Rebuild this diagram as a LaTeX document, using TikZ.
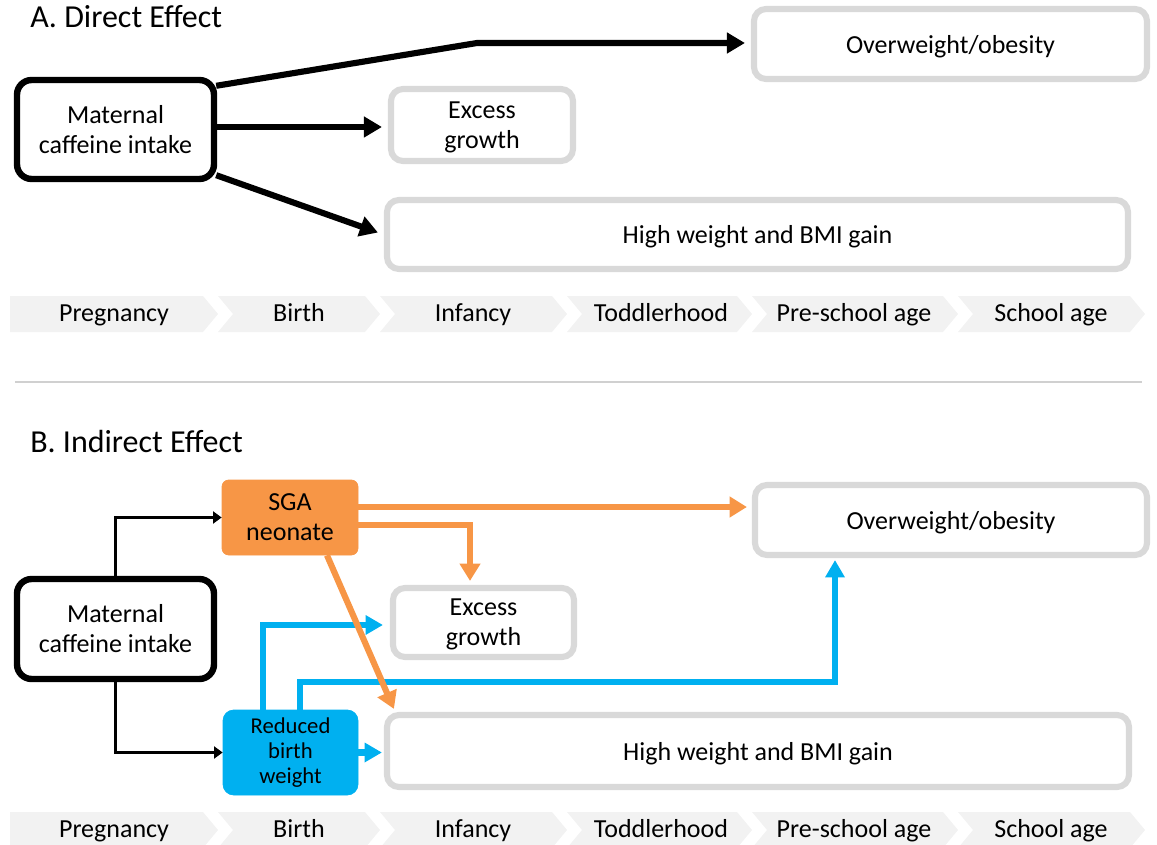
\documentclass[tikz,border=0pt]{standalone}
\usepackage{fontspec}
\setmainfont{Carlito}
\usetikzlibrary{arrows.meta,calc}
\definecolor{orng}{HTML}{F79646}
\definecolor{blu}{HTML}{00B0F0}
\definecolor{bordgray}{HTML}{D9D9D9}
\definecolor{chevgray}{HTML}{F2F2F2}
\definecolor{sepgray}{HTML}{D0D0D0}
\begin{document}
\begin{tikzpicture}[x=0.75pt,y=-0.75pt,
  body/.style={font=\fontsize{19.5}{22.5}\selectfont, align=center, inner sep=0pt, text=black},
  small/.style={font=\fontsize{17}{18.75}\selectfont, align=center, inner sep=0pt, text=black},
  wh/.style 2 args={minimum width=#1*0.75pt, minimum height=#2*0.75pt},
  graybox/.style={body, text depth=0pt, draw=bordgray, line width=4.6pt, rounded corners=9pt, fill=white},
  matbox/.style={body, draw=black, line width=4.8pt, rounded corners=11pt, fill=white},
  sgabox/.style={body, fill=orng, draw=orng, line width=0.5pt, rounded corners=5pt},
  rbwbox/.style={small, fill=blu, draw=blu, line width=0.5pt, rounded corners=8pt},
  titletext/.style={font=\fontsize{24}{28}\selectfont, inner sep=0pt, anchor=base west, text=black},
  chevtext/.style={font=\fontsize{19.5}{22.5}\selectfont, inner sep=0pt, anchor=base, text=black},
  blkarr/.style={draw=black, line width=4.6pt, -{Triangle[length=13.5pt,width=15pt]}},
  thinarr/.style={draw=black, line width=2.3pt, -{Triangle[length=6.5pt,width=9pt]}},
  orarr/.style={draw=orng, line width=4.6pt, -{Triangle[length=13pt,width=15pt]}},
  bluarr/.style={draw=blu, line width=4.6pt, -{Triangle[length=13pt,width=14pt]}},
  sepline/.style={draw=sepgray, line width=1.5pt}
]
\useasboundingbox (0,0) rectangle (1157,845);

% ---------- Titles and separator ----------
\node[titletext] (titleA) at (30,28) {A. Direct Effect};
\node[titletext] (titleB) at (30,452) {B. Indirect Effect};
\draw[sepline] (15,382) -- (1142,382);

% ---------- Timelines ----------
\foreach \top/\bl/\pre in {296/321/a, 812/837/b}{
  \pgfmathsetmacro{\bot}{\top+36}
  \pgfmathsetmacro{\mid}{\top+18}
  \fill[chevgray] (10,\top) -- (203,\top) -- (218,\mid) -- (203,\bot) -- (10,\bot) -- cycle;
  \foreach \s/\t in {218/380, 380/567, 567/752, 752/958, 958/1145}{
    \fill[chevgray] (\s,\top) -- ({\t-15},\top) -- (\t,\mid) -- ({\t-15},\bot) -- (\s,\bot) -- ({\s+15},\mid) -- cycle;
  }
  \node[chevtext] (preg\pre) at (114,\bl) {Pregnancy};
  \node[chevtext] (birth\pre) at (299,\bl) {Birth};
  \node[chevtext] (inf\pre) at (473,\bl) {Infancy};
  \node[chevtext] (todd\pre) at (661,\bl) {Toddlerhood};
  \node[chevtext] (presch\pre) at (854,\bl) {Pre-school age};
  \node[chevtext] (sch\pre) at (1051,\bl) {School age};
}

% ---------- Panel A ----------
\node[matbox, wh={197}{99}] (matA) at (115.5,129.5) {Maternal\\caffeine intake};
\node[graybox, wh={393}{70}] (owA) at (950.5,44) {Overweight/obesity};
\node[graybox, wh={182}{72}] (egA) at (482,125) {Excess\\growth};
\node[graybox, wh={741}{69}] (hwA) at (757.5,234.5) {High weight and BMI gain};

\coordinate (bendA) at (477,43);
\draw[blkarr] ($(matA.north east)+(-1,9)$) -- (bendA) -- ($(owA.west |- bendA)+(-6,0)$);
\draw[blkarr] ($(matA.east |- egA.west)+(0,2)$) -- ($(egA.west)+(-6,2)$);
\draw[blkarr] ($(matA.south east)+(-1,-7)$) -- ($(hwA.west)+(-6,-2)$);

% ---------- Panel B ----------
\node[matbox, wh={197}{100}] (matB) at (115.5,629) {Maternal\\caffeine intake};
\node[sgabox, wh={136}{75}] (sga) at (290,517.5) {SGA\\neonate};
\node[rbwbox, wh={135}{85}] (rbw) at (290.5,752.5) {Reduced\\birth\\weight};
\node[graybox, wh={392}{70}] (owB) at (951,520) {Overweight/obesity};
\node[graybox, wh={181}{69}] (egB) at (483.5,622.5) {Excess\\growth};
\node[graybox, wh={742}{72}] (hwB) at (758,751) {High weight and BMI gain};

% black thin arrows
\draw[thinarr] (matB.north) |- (sga.west);
\draw[thinarr] (matB.south) |- (rbw.west);

% blue arrows
\coordinate (b1) at (263,625);
\coordinate (b2) at (300,682);
\coordinate (b2c) at (835,682);
\draw[bluarr] (rbw.north -| b1) |- ($(egB.west |- b1)+(-7,0)$);
\draw[bluarr] (rbw.north -| b2) |- (b2c) -- ($(owB.south -| b2c)+(0,2)$);
\draw[bluarr] (rbw.east) -- ($(hwB.west |- rbw.east)+(-2,0)$);

% orange arrows
\coordinate (o1) at (0,507);
\coordinate (o2) at (470,525);
\draw[orarr] (sga.east |- o1) -- ($(owB.west |- o1)+(-5,0)$);
\draw[orarr] (sga.east |- o2) -| ($(egB.north -| o2)+(0,-4)$);
\draw[orarr] ($(sga.south)+(37,0)$) -- ($(hwB.north west)+(10,-3)$);
\end{tikzpicture}
\end{document}
